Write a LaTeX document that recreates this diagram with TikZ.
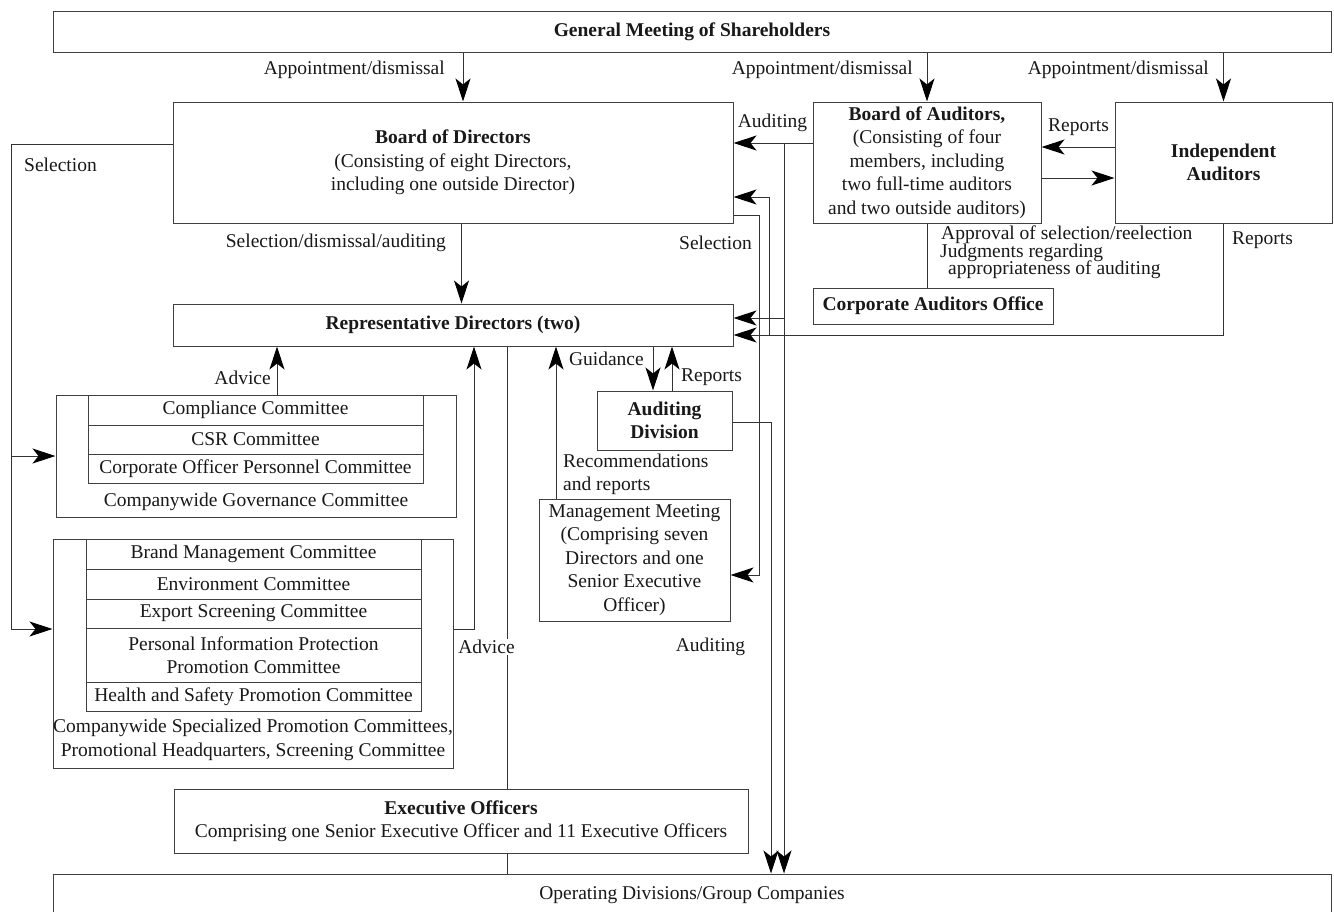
\documentclass[tikz,border=0pt]{standalone}
\usepackage{fontspec}
\setmainfont{Liberation Serif}
\usetikzlibrary{arrows.meta,calc}
\begin{document}
\begin{tikzpicture}[x=1pt,y=-1pt,
  every node/.style={font=\fontsize{19.5}{23.5}\selectfont, text=black!90, inner sep=0pt},
  box/.style={draw=black!75, line width=1pt, align=center},
  ln/.style={draw=black!80, line width=1pt},
  arr/.style={ln, -{Stealth[length=23pt,width=15pt,inset=6pt,color=black,fill=black]}},
  lbl/.style={inner sep=0pt},
]
\useasboundingbox (0,0) rectangle (1334,911);
\fill[white] (0,0) rectangle (1334,911);

% main boxes
\node[box, minimum width=1278pt, minimum height=41pt] (gms) at (692,31.5) {\textbf{General Meeting of Shareholders}};
\node[box, minimum width=560pt, minimum height=121pt] (bod) at (453,162.5) {\textbf{Board of Directors}\\(Consisting of eight Directors,\\including one outside Director)};
\node[box, minimum width=228pt, minimum height=121pt] (boa) at (927,162.5) {\textbf{Board of Auditors,}\\(Consisting of four\\members, including\\two full-time auditors\\and two outside auditors)};
\node[box, minimum width=217pt, minimum height=121pt] (ia) at (1223.5,162.5) {\textbf{Independent}\\\textbf{Auditors}};
\node[box, minimum width=240pt, minimum height=36pt] (cao) at (933,306) {\textbf{Corporate Auditors Office}};
\node[box, minimum width=560pt, minimum height=42pt] (rep) at (453,325) {\textbf{Representative Directors (two)}};
\node[box, minimum width=135pt, minimum height=59pt] (ad) at (664.5,420.5) {\textbf{Auditing}\\\textbf{Division}};
\node[box, minimum width=191pt, minimum height=122pt] (mm) at (634.5,560) {Management Meeting\\(Comprising seven\\Directors and one\\Senior Executive\\Officer)};
\node[box, minimum width=574pt, minimum height=64pt] (exec) at (461,821) {\textbf{Executive Officers}\\Comprising one Senior Executive Officer and 11 Executive Officers};
\node[box, minimum width=1278pt, minimum height=42pt] (odg) at (692,895) {Operating Divisions/Group Companies};

% governance committee group
\node[box, minimum width=400pt, minimum height=122pt] (g1) at (256,456) {};
\node[box, minimum width=335pt, minimum height=30pt] (c11) at (255.5,410) {Compliance Committee};
\node[box, minimum width=335pt, minimum height=29pt] (c12) at (255.5,439.5) {CSR Committee};
\node[box, minimum width=335pt, minimum height=29pt] (c13) at (255.5,468.5) {Corporate Officer Personnel Committee};
\node (g1cap) at (256,502) {Companywide Governance Committee};

% specialized committee group
\node[box, minimum width=400pt, minimum height=229pt] (g2) at (253,653.5) {};
\node[box, minimum width=335pt, minimum height=30pt] (c21) at (253.5,554) {Brand Management Committee};
\node[box, minimum width=335pt, minimum height=30pt] (c22) at (253.5,584) {Environment Committee};
\node[box, minimum width=335pt, minimum height=29pt] (c23) at (253.5,613.5) {Export Screening Committee};
\node[box, minimum width=335pt, minimum height=54pt] (c24) at (253.5,655) {Personal Information Protection\\Promotion Committee};
\node[box, minimum width=335pt, minimum height=29pt] (c25) at (253.5,696.5) {Health and Safety Promotion Committee};
\node[align=center] (g2cap) at (253,740) {Companywide Specialized Promotion Committees,\\Promotional Headquarters, Screening Committee};

% appointment arrows
\draw[arr] ([xshift=10pt]bod.north |- gms.south) -- ([xshift=10pt]bod.north);
\draw[arr] (boa.north |- gms.south) -- (boa.north);
\draw[arr] (ia.north |- gms.south) -- (ia.north);
\node[anchor=east] (la1) at (445,70) {Appointment/dismissal};
\node[anchor=east] (la2) at (913,70) {Appointment/dismissal};
\node[anchor=east] (la3) at (1209,70) {Appointment/dismissal};

% board of auditors <-> independent auditors
\draw[arr] ([yshift=15.5pt]ia.west) -- ([yshift=15.5pt]boa.east);
\draw[arr] ([yshift=-15.5pt]boa.east) -- ([yshift=-15.5pt]ia.west);
\node (lrep1) at (1078.5,127) {Reports};

% auditing from board of auditors
\draw[arr] ([yshift=19.5pt]boa.west) -- ([yshift=19.5pt]bod.east);
\node (laud1) at (772.5,123) {Auditing};
\coordinate (au1) at (784,143);
\coordinate (au2) at (784,318);
\draw[arr] (au1) -- (au1 |- odg.north);
\draw[arr] (au2) -- (au2 -| rep.east);

% corporate auditors office
\draw[ln] (boa.south) -- (boa.south |- cao.north);
\node[anchor=west] (lap1) at (941,235) {Approval of selection/reelection};
\node[anchor=west] (lap2) at (940,253) {Judgments regarding};
\node[anchor=west] (lap3) at (948,270) {appropriateness of auditing};

% independent auditors reports
\draw[arr] (ia.south) |- ([yshift=-10pt]rep.east);
\coordinate (ir2) at (769,335);
\draw[arr] (ir2) |- ([yshift=-34.5pt]bod.east);
\node[anchor=west] (lrep2) at (1232,240) {Reports};

% selection to management meeting
\coordinate (sl1) at (759,215);
\draw[ln] ([yshift=-52.5pt]bod.east) -- (sl1);
\draw[arr] (sl1) |- ([yshift=-15pt]mm.east);
\node[anchor=east] (lsel2) at (752,243) {Selection};

% board -> representative directors
\draw[arr] ([xshift=8.5pt]bod.south) -- ([xshift=8.5pt]rep.north);
\node[anchor=east] (lsda) at (446,243) {Selection/dismissal/auditing};

% left selection
\coordinate (ls2) at (11,629);
\draw[ln] ([yshift=18.5pt]bod.west) -| (ls2);
\draw[arr] (ls2) -- (ls2 -| g2.west);
\draw[arr] (ls2 |- g1.west) -- (g1.west);
\node[anchor=west] (lsel1) at (24,165) {Selection};

% advice
\coordinate (adv1) at (277,400);
\draw[arr] (adv1 |- g1.north) -- (adv1 |- rep.south);
\node[anchor=east] (ladv1) at (271,378) {Advice};
\coordinate (adv2) at (474,629);
\draw[arr] (adv2 -| g2.east) -- (adv2) -- (adv2 |- rep.south);

% representative directors -> executive officers -> operating divisions
\coordinate (ex) at (507,700);
\draw[ln] (ex |- rep.south) -- (ex |- exec.north);
\draw[ln] (ex |- exec.south) -- (ex |- odg.north);
\node[fill=white, inner sep=1pt] (ladv2) at (486.5,647) {Advice};

% management meeting recommendations
\coordinate (rc) at (556,470);
\draw[arr] (rc |- mm.north) -- (rc |- rep.south);
\node[anchor=west, align=left] (lrec) at (563,474.5) {Recommendations\\and reports};

% guidance / reports with auditing division
\coordinate (gd) at (653,370);
\coordinate (rp) at (672,370);
\draw[arr] (gd |- rep.south) -- (gd |- ad.north);
\draw[arr] (rp |- ad.north) -- (rp |- rep.south);
\node[anchor=east] (lgd) at (644,359) {Guidance};
\node[anchor=west] (lrp) at (681,377) {Reports};

% auditing division auditing
\coordinate (ad1) at (771,422);
\draw[arr] (ad1 -| ad.east) -- (ad1) -- (ad1 |- odg.north);
\node (laud2) at (710.5,647) {Auditing};
\end{tikzpicture}
\end{document}
